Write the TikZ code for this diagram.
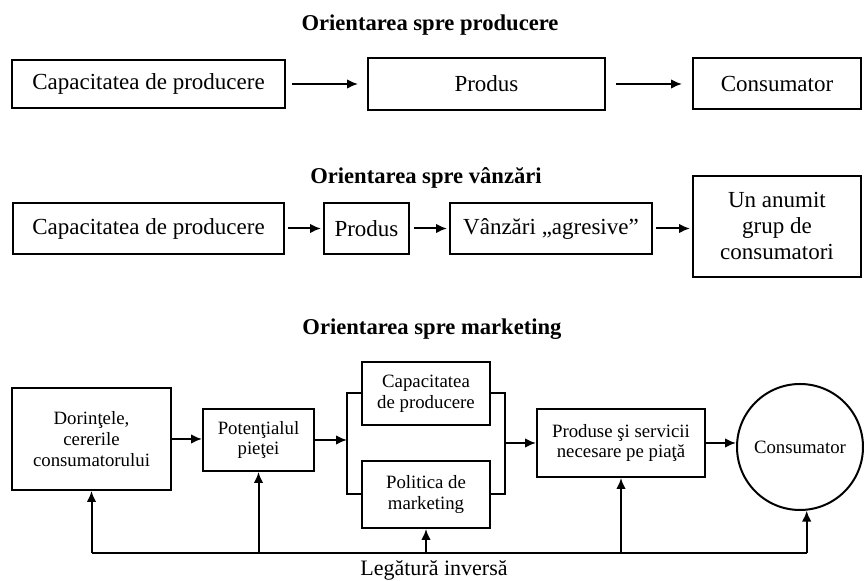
\documentclass[tikz,border=0pt]{standalone}
\usepackage{fontspec}
\setmainfont{Liberation Serif}
\usetikzlibrary{arrows.meta}
\tikzset{
  box/.style={draw, line width=1pt, inner sep=0pt, align=center},
  big/.style={font=\fontsize{11.5}{13}\selectfont},
  small/.style={font=\fontsize{9.4}{10.4}\selectfont},
  ttl/.style={font=\fontsize{11.3}{13}\selectfont\bfseries},
  arr/.style={line width=1pt, -{Latex[length=5.5pt,width=4.8pt]}},
  ln/.style={line width=1pt},
}
\begin{document}
\begin{tikzpicture}[x=0.5pt,y=-0.5pt]
\useasboundingbox (0,0) rectangle (864,581);
% titles
\node[ttl] (t1) at (430,25) {Orientarea spre producere};
\node[ttl] (t2) at (426,178) {Orientarea spre vânzări};
\node[ttl] (t3) at (432,329) {Orientarea spre marketing};
% row 1
\node[box,big,minimum width=136.5pt,minimum height=24pt] (a1) at (148.5,84) {Capacitatea de producere};
\node[box,big,minimum width=118.5pt,minimum height=26pt] (a2) at (486.5,84) {Produs};
\node[box,big,minimum width=84pt,minimum height=25.5pt] (a3) at (777,84) {Consumator};
\draw[arr,shorten <=3pt,shorten >=4.5pt] (a1.east) -- (a1.east -| a2.west);
\draw[arr,shorten <=5pt,shorten >=5pt] (a2.east) -- (a2.east -| a3.west);
% row 2
\node[box,big,minimum width=135.5pt,minimum height=25.5pt] (b1) at (148.5,228.5) {Capacitatea de producere};
\node[box,big,minimum width=42.5pt,minimum height=25.5pt] (b2) at (366.5,228.5) {Produs};
\node[box,big,minimum width=101pt,minimum height=25.5pt] (b3) at (551,228.5) {Vânzări „agresive”};
\node[box,big,minimum width=84pt,minimum height=50.5pt] (b4) at (777,226.5) {Un anumit\\grup de\\consumatori};
\draw[arr,shorten <=1.5pt,shorten >=1pt] (b1.east) -- (b1.east -| b2.west);
\draw[arr,shorten <=2pt,shorten >=1pt] (b2.east) -- (b2.east -| b3.west);
\draw[arr,shorten <=1.5pt,shorten >=1pt] (b3.east) -- (b3.east -| b4.west);
% row 3
\node[box,small,minimum width=79.5pt,minimum height=51pt] (c1) at (91.5,439) {Dorinţele,\\cererile\\consumatorului};
\node[box,small,minimum width=55.5pt,minimum height=31pt] (c2) at (258.5,440) {Potenţialul\\pieţei};
\node[box,small,minimum width=64pt,minimum height=31.5pt] (c3) at (426,393.5) {Capacitatea\\de producere};
\node[box,small,minimum width=64pt,minimum height=33.5pt] (c4) at (426,494.5) {Politica de\\marketing};
\node[box,small,minimum width=84pt,minimum height=34pt] (c5) at (621,443) {Produse şi servicii\\necesare pe piaţă};
\node[draw,line width=1pt,circle,minimum size=63pt,inner sep=0pt,small] (cs) at (800,447) {Consumator};
% brackets
\coordinate (L1) at (347,393.5);
\coordinate (L2) at (347,494.5);
\coordinate (R1) at (505,393.5);
\coordinate (R2) at (505,494.5);
\draw[ln] (c3.west) -- (L1) -- (L2) -- (c4.west);
\draw[ln] (c3.east) -- (R1) -- (R2) -- (c4.east);
\draw[arr] (c1.east) -- (c1.east -| c2.west);
\draw[arr] (c2.east) -- (c2.east -| L1);
\draw[arr] (c5.west -| R1) -- (c5.west);
\draw[arr] (c5.east) -- (c5.east -| cs.west);
% feedback
\coordinate (fb) at (0,553);
\draw[ln] (c1.south |- fb) -- (cs.-84 |- fb);
\draw[arr] (c1.south |- fb) -- (c1.south);
\draw[arr] (c2.south |- fb) -- (c2.south);
\draw[arr] (c4.south |- fb) -- (c4.south);
\draw[arr] (c5.south |- fb) -- (c5.south);
\draw[arr] (cs.-84 |- fb) -- (cs.-84);
\node[font=\fontsize{11}{13}\selectfont] (lbl) at (434,570) {Legătură inversă};
\end{tikzpicture}
\end{document}
